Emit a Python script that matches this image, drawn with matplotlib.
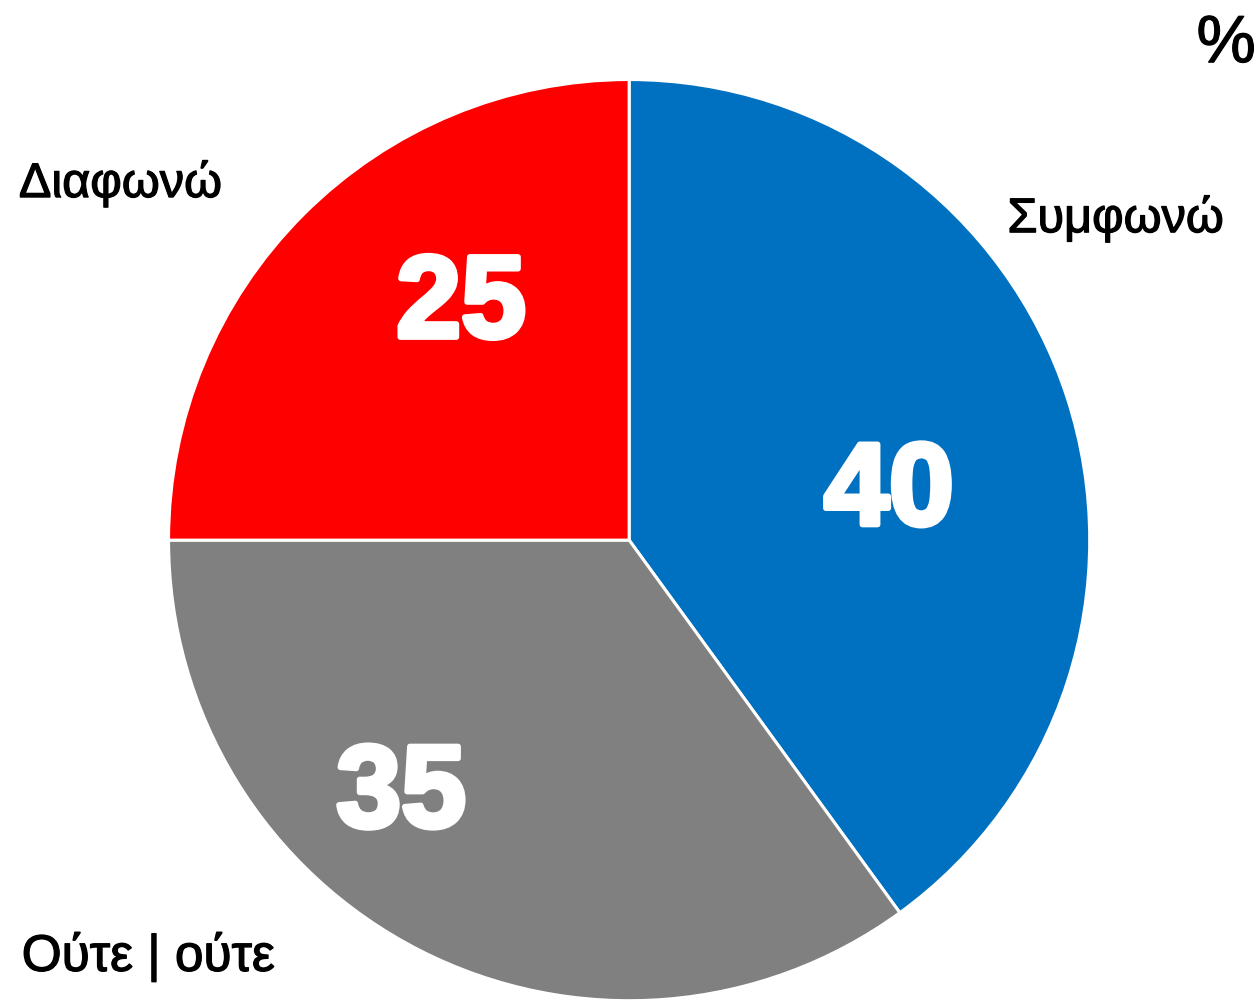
import matplotlib.pyplot as plt
import matplotlib.patheffects as pe

# data, clockwise from the top
labels = ['Συμφωνώ', 'Ούτε | ούτε', 'Διαφωνώ']
values = [40, 35, 25]
colors = ['#0070C0', '#808080', '#FF0000']

# where the numbers sit inside each slice (pie data units)
value_pos = [(0.564, 0.100), (-0.495, -0.556), (-0.365, 0.507)]
# outer category labels (figure fractions) and sizes
label_pos = [(0.889, 0.781), (0.118, 0.045), (0.096, 0.816)]
label_size = [35, 37, 35]

plt.rcParams['font.family'] = ['Liberation Sans', 'DejaVu Sans']

fig = plt.figure(figsize=(12.55, 10.03), dpi=100)
ax = fig.add_axes([0.1323, -0.001, 0.738, 0.923])

ax.pie(values, colors=colors, startangle=90, counterclock=False,
       radius=1.0, wedgeprops=dict(edgecolor='white', linewidth=2.2))
ax.set_xlim(-1.005, 1.005)
ax.set_ylim(-1.005, 1.005)
ax.set_aspect('equal')
ax.axis('off')

for v, (x, y) in zip(values, value_pos):
    ax.text(x, y, str(v), color='white', fontsize=84, fontweight='bold',
            ha='center', va='center',
            path_effects=[pe.withStroke(linewidth=4, foreground='white')])

for lab, (x, y), fs in zip(labels, label_pos, label_size):
    fig.text(x, y, lab, fontsize=fs, ha='center', va='center', color='black',
             path_effects=[pe.withStroke(linewidth=0.9, foreground='black')])

fig.text(0.977, 0.954, '%', fontsize=48, ha='center', va='center', color='black',
         path_effects=[pe.withStroke(linewidth=0.9, foreground='black')])

fig.savefig('out.png', dpi=100)
